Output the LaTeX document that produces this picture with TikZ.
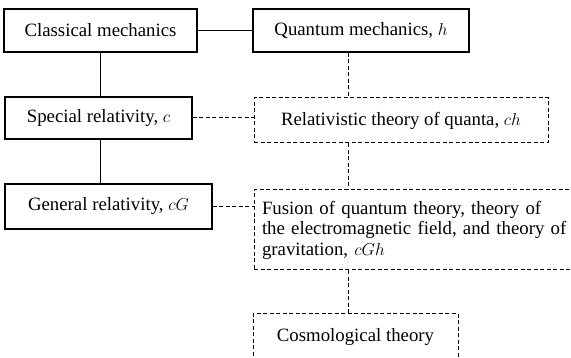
\documentclass[tikz,border=0pt]{standalone}
\usepackage{fontspec}
\setmainfont{Liberation Serif}
\begin{document}
\begin{tikzpicture}[x=1pt,y=-1pt,
  every node/.style={font=\fontsize{18.8}{20.5}\selectfont},
  solidbox/.style={draw, line width=1.2pt, inner sep=0pt, align=center},
  dashbox/.style={draw, line width=1pt, dash pattern=on 4pt off 2.5pt, inner sep=0pt, align=center},
  solidline/.style={line width=1.1pt},
  dashline/.style={line width=1pt, dash pattern=on 4pt off 2.5pt}]
\useasboundingbox (0,0) rectangle (571,358);
\clip (0,0) rectangle (571,358);
\node[solidbox, minimum width=193pt, minimum height=43pt] (cm) at (100.5,30.5) {Classical mechanics};
\node[solidbox, minimum width=216pt, minimum height=43pt] (qm) at (361,30.5) {Quantum mechanics, $h$};
\node[solidbox, minimum width=187pt, minimum height=42pt] (sr) at (98.5,118) {Special relativity, $c$};
\node[dashbox, minimum width=294pt, minimum height=45pt] (rt) at (401,120.5) {Relativistic theory of quanta, $ch$};
\node[solidbox, minimum width=207pt, minimum height=45pt] (gr) at (108.5,206.5) {General relativity, $cG$};
\node[dashbox, minimum width=319pt, minimum height=80pt, text width=303pt, align=left] (fu) at (413.5,230)
  {\makebox[303pt][s]{Fusion of quantum theory, theory of}\\
   \makebox[303pt][s]{the electromagnetic field, and theory of}\\
   gravitation, $cGh$};
\node[dashbox, minimum width=205pt, minimum height=46pt] (co) at (355.5,337) {Cosmological theory};
\coordinate (v) at (348.5,0);
\coordinate (u) at (100.5,0);
\draw[solidline] (cm.east) -- (qm.west);
\draw[solidline] (cm.south -| u) -- (sr.north -| u);
\draw[solidline] (sr.south -| u) -- (gr.north -| u);
\draw[dashline] (sr.east) -- (sr.east -| rt.west);
\draw[dashline] (gr.east) -- (gr.east -| fu.west);
\draw[dashline] (qm.south -| v) -- (rt.north -| v);
\draw[dashline] (rt.south -| v) -- (fu.north -| v);
\draw[dashline] (fu.south -| v) -- (co.north -| v);
\end{tikzpicture}
\end{document}
